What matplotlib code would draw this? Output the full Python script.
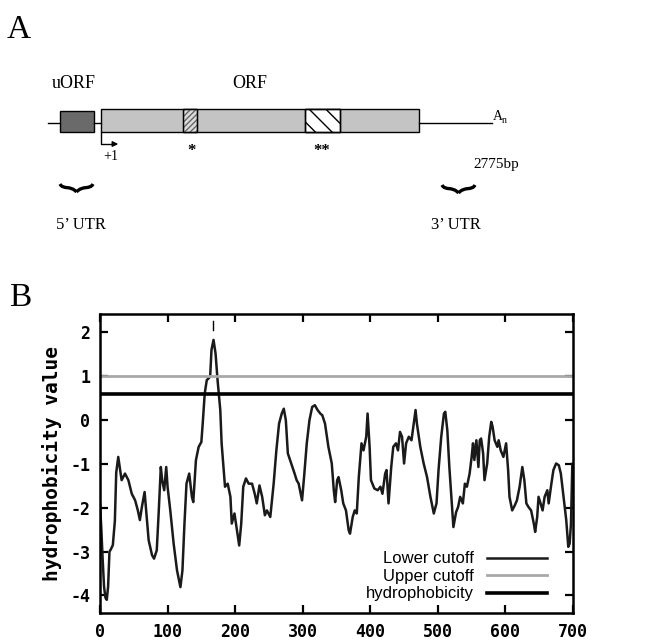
import matplotlib
matplotlib.use("Agg")
import matplotlib.pyplot as plt
from matplotlib.patches import Rectangle
from matplotlib.path import Path
from matplotlib.patches import PathPatch

# hydrophobicity profile (residue, value)
residue = [0, 2, 4, 6, 8, 10, 12, 14, 16, 19, 22, 24, 27, 32, 37, 42, 47, 52, 56, 59,
           62, 66, 69, 72, 77, 80, 84, 87, 90, 92, 95, 98, 100, 104, 109, 114, 119, 122, 125, 128,
           132, 136, 138, 142, 146, 150, 152, 155, 158, 163, 165, 168, 171, 174, 178, 180, 183, 185, 189, 193,
           195, 199, 202, 206, 209, 212, 216, 220, 225, 229, 232, 236, 240, 244, 247, 252, 257, 261, 265, 269,
           272, 275, 278, 283, 288, 291, 294, 299, 302, 306, 310, 314, 318, 322, 326, 329, 333, 338, 343, 346,
           348, 351, 353, 357, 360, 364, 368, 370, 374, 377, 380, 383, 387, 390, 394, 396, 399, 401, 406, 411,
           415, 418, 422, 424, 427, 431, 434, 438, 441, 444, 447, 450, 453, 457, 461, 464, 467, 469, 474, 479,
           484, 489, 494, 498, 501, 505, 509, 511, 514, 517, 521, 523, 527, 530, 533, 537, 540, 543, 547, 550,
           552, 554, 557, 560, 562, 564, 567, 569, 573, 576, 579, 581, 584, 588, 590, 593, 597, 601, 604, 606,
           610, 614, 617, 621, 625, 628, 631, 634, 638, 642, 644, 647, 649, 652, 655, 658, 662, 664, 668, 671,
           675, 679, 682, 686, 690, 693, 695, 697, 699]
value = [-1.9, -2.5, -3.2, -3.8, -4.05, -4.1, -3.8, -3.0, -2.95, -2.85, -2.3, -1.2, -0.84, -1.37, -1.22, -1.37, -1.68, -1.83, -2.06, -2.28,
         -1.98, -1.64, -2.2, -2.74, -3.08, -3.16, -2.97, -2.06, -1.07, -1.37, -1.6, -1.07, -1.52, -2.06, -2.82, -3.43, -3.81, -3.43, -2.36, -1.45,
         -1.22, -1.75, -1.87, -0.91, -0.61, -0.5, -0.08, 0.61, 0.91, 0.99, 1.6, 1.83, 1.52, 0.91, 0.23, -0.53, -1.14, -1.52, -1.45, -1.75,
         -2.36, -2.13, -2.44, -2.86, -2.36, -1.52, -1.33, -1.45, -1.45, -1.68, -1.9, -1.49, -1.75, -2.17, -2.06, -2.21, -1.45, -0.69, -0.08, 0.15,
         0.26, 0.0, -0.76, -0.99, -1.22, -1.37, -1.45, -1.83, -1.3, -0.53, 0.0, 0.3, 0.34, 0.23, 0.15, 0.11, -0.08, -0.61, -0.99, -1.6,
         -1.87, -1.37, -1.3, -1.6, -1.9, -2.06, -2.51, -2.59, -2.21, -2.06, -2.13, -1.3, -0.53, -0.69, -0.38, 0.15, -0.61, -1.37, -1.56, -1.6,
         -1.52, -1.68, -1.22, -1.14, -1.9, -1.07, -0.61, -0.53, -0.69, -0.27, -0.38, -0.99, -0.53, -0.38, -0.46, -0.12, 0.23, -0.08, -0.61, -0.99,
         -1.3, -1.75, -2.13, -1.9, -1.14, -0.38, 0.15, 0.19, -0.23, -1.07, -1.98, -2.44, -2.1, -1.98, -1.75, -1.9, -1.45, -1.52, -1.22, -0.84,
         -0.53, -0.91, -0.46, -1.07, -0.46, -0.42, -0.76, -1.37, -0.99, -0.38, -0.04, -0.15, -0.46, -0.61, -0.46, -0.69, -0.84, -0.53, -1.14, -1.75,
         -2.06, -1.94, -1.83, -1.52, -1.07, -1.37, -1.9, -1.98, -2.06, -2.36, -2.55, -2.21, -1.75, -1.9, -2.06, -1.75, -1.6, -1.9, -1.45, -1.14,
         -0.99, -1.03, -1.22, -1.75, -2.28, -2.89, -2.82, -2.36, -1.0]

upper_cutoff = 1.0
lower_cutoff = 0.6
x_ticks = [0, 100, 200, 300, 400, 500, 600, 700]
y_ticks = [-4, -3, -2, -1, 0, 1, 2]

serif = "Liberation Serif"

fig = plt.figure(figsize=(6.51, 6.43), dpi=100)

# panel A: gene diagram, drawn in pixel coordinates of the figure
ax_a = fig.add_axes([0, 0, 1, 1])
ax_a.set_xlim(0, 651)
ax_a.set_ylim(643, 0)
ax_a.axis("off")


def brace(ax, x0, x1, y):
    xm = (x0 + x1) / 2
    for xs, sgn in ((x0, 1), (x1, -1)):
        verts = [(xs, y - 4), (xs + sgn * 3, y + 2), (xm - sgn * 6, y - 3), (xm, y + 4)]
        codes = [Path.MOVETO, Path.CURVE4, Path.CURVE4, Path.CURVE4]
        ax.add_patch(PathPatch(Path(verts, codes), fill=False, lw=2.4, color="black"))


ax_a.text(7, 38, "A", fontsize=24, family=serif, ha="left", va="baseline")
ax_a.plot([48, 60], [123, 123], color="black", lw=1)
ax_a.plot([94, 101], [123, 123], color="black", lw=1)
ax_a.plot([419, 492], [123, 123], color="black", lw=1)
ax_a.add_patch(Rectangle((60, 111), 34, 21, facecolor="#6a6a6a", edgecolor="black", lw=1))
ax_a.add_patch(Rectangle((101, 109), 318, 23, facecolor="#c4c4c4", edgecolor="black", lw=1))
plt.rcParams["hatch.linewidth"] = 1.0
ax_a.add_patch(Rectangle((183, 109), 14, 23, facecolor="#dcdcdc", edgecolor="#666666",
                         lw=1, hatch="//////"))
ax_a.add_patch(Rectangle((183, 109), 14, 23, fill=False, edgecolor="black", lw=1))
ax_a.add_patch(Rectangle((305, 109), 35, 23, facecolor="white", edgecolor="black",
                         lw=1, hatch="\\\\"))
ax_a.add_patch(Rectangle((305, 109), 35, 23, fill=False, edgecolor="black", lw=1))
ax_a.text(74, 88, "uORF", fontsize=13, family=serif, ha="center", va="baseline")
ax_a.text(250, 88, "ORF", fontsize=13, family=serif, ha="center", va="baseline")
ax_a.text(493, 120, "A", fontsize=10, family=serif, ha="left", va="baseline")
ax_a.text(502, 123, "n", fontsize=7, family=serif, ha="left", va="baseline")
ax_a.plot([101, 101, 115], [132, 144, 144], color="black", lw=1)
ax_a.annotate("", xy=(121, 144), xytext=(112, 144),
              arrowprops=dict(arrowstyle="-|>", color="black", lw=1, mutation_scale=8))
ax_a.text(103, 160, "+1", fontsize=10, family=serif, ha="left", va="baseline")
ax_a.text(191, 155, "*", fontsize=12, family=serif, ha="center", va="baseline", weight="bold")
ax_a.text(322, 155, "**", fontsize=12, family=serif, ha="center", va="baseline", weight="bold")
ax_a.text(473, 168, "2775bp", fontsize=11, family=serif, ha="left", va="baseline")
brace(ax_a, 60, 93, 188)
brace(ax_a, 442, 475, 189)
ax_a.text(81, 229, "5\u2019 UTR", fontsize=12, family=serif, ha="center", va="baseline")
ax_a.text(456, 229, "3\u2019 UTR", fontsize=12, family=serif, ha="center", va="baseline")
ax_a.text(9, 306, "B", fontsize=24, family=serif, ha="left", va="baseline")

# panel B: hydrophobicity plot
ax = fig.add_axes([100 / 651, 30 / 643, 473 / 651, 299 / 643])
ax.plot(residue, value, color="#1a1a1a", lw=1.8, label="Lower cutoff")
ax.axhline(upper_cutoff, color="#a8a8a8", lw=2, label="Upper cutoff")
ax.axhline(lower_cutoff, color="black", lw=2.6, label="hydrophobicity")
ax.plot([167, 167], [2.05, 2.25], color="black", lw=1)
ax.set_xlim(0, 700)
ax.set_ylim(-4.4, 2.42)
ax.set_xticks(x_ticks)
ax.set_yticks(y_ticks)
mono = {"family": "DejaVu Sans Mono", "weight": "bold", "size": 12}
ax.set_xticklabels([str(t) for t in x_ticks], fontdict=mono)
ax.set_yticklabels([str(t) for t in y_ticks], fontdict=mono)
ax.tick_params(direction="in", length=6, width=1.6, top=True, right=True, pad=7)
for s in ax.spines.values():
    s.set_linewidth(1.8)
ax.set_ylabel("hydrophobicity value", fontdict={"family": "DejaVu Sans Mono",
                                                "weight": "bold", "size": 14}, labelpad=6)
ax.legend(loc="lower right", frameon=False, markerfirst=False, handlelength=3.6,
          prop={"family": "Liberation Sans", "size": 12}, borderaxespad=0.3,
          labelspacing=0.15, bbox_to_anchor=(0.97, 0.0))

fig.savefig("out.png", dpi=100)
